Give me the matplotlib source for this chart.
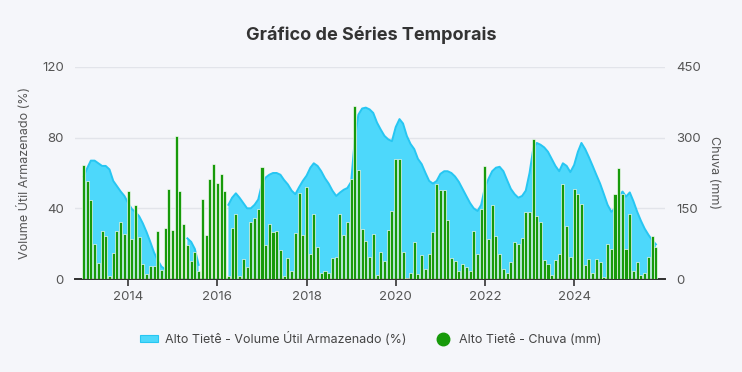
import numpy as np
import pandas as pd
import matplotlib
matplotlib.use("Agg")
import matplotlib.pyplot as plt
import matplotlib.dates as mdates
from matplotlib.patches import Patch
from matplotlib.lines import Line2D

plt.rcParams['font.family'] = ['Inter', 'DejaVu Sans']

nan = np.nan
months = pd.date_range("2013-01-01", periods=155, freq="MS")

volume_pct = [
    58, 63, 67, 67, 65.5, 64, 64, 62, 55.5, 52.5, 49.5, 47,
    43, 39.5, 38, 35.5, 31.5, 26.5, 21, 15, 10.5, 7, 5.5, nan,
    nan, nan, nan, nan, 23, 21, 17, 8, nan, nan, nan, nan,
    nan, nan, nan, 42, 46, 48.5, 46, 43, 40, 40, 42, 45,
    54, 57.5, 59, 60, 60, 59, 56, 53.5, 50, 48, 52, 55.5,
    58.5, 63, 65.5, 64, 61, 57, 54, 50, 47, 48.9, 50.5, 51.5,
    55, 80, 93, 96.5, 97, 96, 94, 88.5, 84.5, 81, 79, 78,
    86, 90.5, 88, 81, 76.5, 73.5, 68, 65, 60, 55.5, 54, 55.5,
    59.5, 61, 61, 60, 58, 55, 51, 47, 43, 40, 38.5, 42,
    52, 57, 61, 63, 63.5, 61, 56, 51, 48, 46, 47, 50,
    60, 74, 77, 76, 74.5, 72, 68, 64, 61, 65.5, 64, 60.5,
    64.5, 72, 77, 73.5, 69, 64, 59, 54, 48, 42, 38, 40,
    47, 49.5, 46.6, 49, 44, 38, 33, 28.5, 25, 22, 19.6,
]

chuva_mm = [
    242, 207, 168, 74, 35, 102, 91, 7, 56, 102, 120, 96,
    187, 85, 157, 89, 32, 11, 28, 28, 102, 20, 108, 190,
    103, 304, 187, 117, 72, 39, 58, 18, 170, 93, 212, 244,
    203, 223, 187, 7, 108, 139, 7, 42, 26, 122, 130, 148,
    238, 72, 117, 100, 102, 62, 7, 45, 16, 98, 183, 93,
    196, 53, 139, 67, 13, 18, 13, 44, 47, 139, 93, 122,
    212, 367, 231, 106, 81, 47, 96, 8, 58, 39, 103, 145,
    254, 254, 58, 3, 13, 79, 11, 51, 21, 53, 100, 202,
    189, 189, 126, 44, 38, 16, 31, 25, 18, 102, 54, 148,
    240, 84, 156, 92, 54, 21, 12, 37, 79, 75, 86, 143,
    143, 297, 134, 122, 41, 31, 8, 41, 53, 202, 113, 47,
    191, 180, 160, 30, 43, 13, 43, 37, 5, 75, 64, 180,
    236, 180, 63, 139, 18, 37, 8, 13, 47, 92, 67,
]

year_ticks = ["2014", "2016", "2018", "2020", "2022", "2024"]
left_ticks = [0, 40, 80, 120]
right_ticks = [0, 150, 300, 450]

bg = "#f5f6fa"
area_fill = "#4dd8fb"
area_line = "#27c6f2"
bar_color = "#179a0a"
text_gray = "#555555"

fig = plt.figure(figsize=(7.42, 3.72), dpi=100, facecolor=bg)
ax = fig.add_axes([0.101, 0.25, 0.795, 0.57])
ax.set_facecolor(bg)
ax2 = ax.twinx()

vol = np.array(volume_pct, dtype=float)
ax.fill_between(months, 0, vol, color=area_fill, linewidth=0, zorder=2)
ax.plot(months, vol, color=area_line, linewidth=1.4, zorder=3)

ax2.bar(months, chuva_mm, width=25, color=bar_color, edgecolor="white",
        linewidth=0.45, zorder=3)

ax.set_ylim(0, 120)
ax2.set_ylim(0, 450)
ax.set_yticks(left_ticks)
ax2.set_yticks(right_ticks)
ax.set_xlim(pd.Timestamp("2012-10-22"), pd.Timestamp("2026-01-13"))
ax.set_xticks([pd.Timestamp(f"{y}-01-01") for y in year_ticks])
ax.set_xticklabels(year_ticks)

ax.grid(axis="y", color="#e2e4ea", linewidth=1)
ax.set_axisbelow(True)

for a in (ax, ax2):
    for s in ("top", "right", "left"):
        a.spines[s].set_visible(False)
    a.spines["bottom"].set_color("#333333")
    a.spines["bottom"].set_linewidth(1.3)
    a.tick_params(axis="y", length=0, colors=text_gray, labelsize=9.5, pad=8)
ax.tick_params(axis="x", length=5, width=1.2, color="#333333",
               labelcolor=text_gray, labelsize=9.5, pad=4)

ax.set_ylabel("Volume Útil Armazenado (%)", color=text_gray, fontsize=9, labelpad=8)
ax2.set_ylabel("Chuva (mm)", color=text_gray, fontsize=9, rotation=270, labelpad=14)

fig.suptitle("Gráfico de Séries Temporais", x=0.5, y=0.93, fontsize=13,
             fontweight="bold", color="#333333")

handles = [
    Patch(facecolor=area_fill, edgecolor=area_line, linewidth=0.8),
    Line2D([], [], marker="o", linestyle="none", markersize=9,
           markerfacecolor=bar_color, markeredgecolor=bar_color),
]
labels = ["Alto Tietê - Volume Útil Armazenado (%)", "Alto Tietê - Chuva (mm)"]
fig.legend(handles, labels, loc="center", bbox_to_anchor=(0.5, 0.09), ncol=2,
           frameon=False, fontsize=9, labelcolor="#444444", handlelength=1.4,
           handleheight=0.5, columnspacing=2.2, handletextpad=0.6)

fig.savefig("out.png", dpi=100, facecolor=bg)
